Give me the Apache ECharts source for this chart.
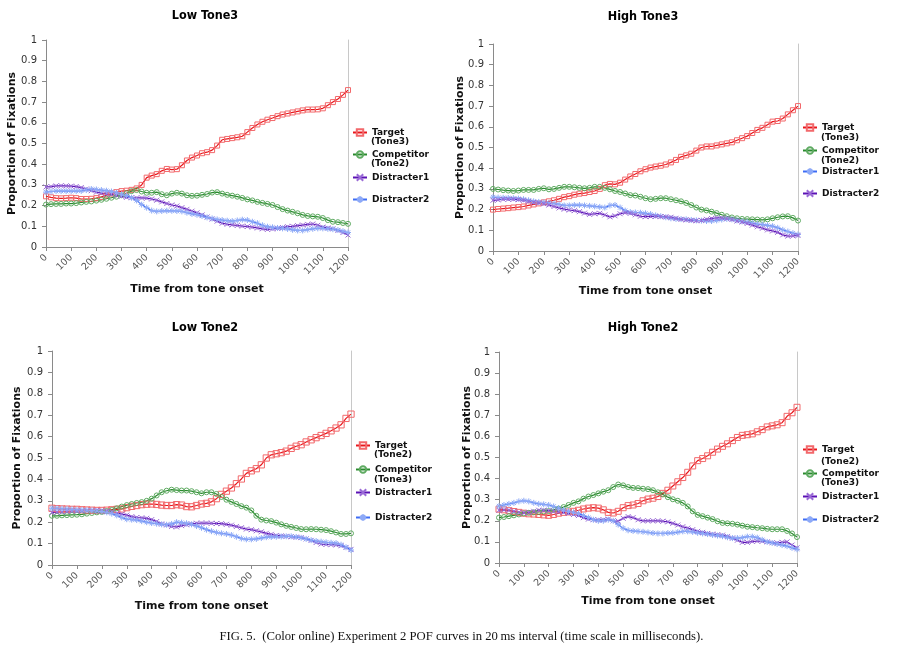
<!DOCTYPE html>
<html><head><meta charset="utf-8">
<script src="https://cdn.jsdelivr.net/npm/echarts@6/dist/echarts.min.js"></script>
<style>
body{margin:0;background:#fff;width:899px;height:648px;position:relative;overflow:hidden}
.p{position:absolute;width:450px;height:320px}
#cap{position:absolute;left:24px;top:628px;width:875px;text-align:center;font-family:"Liberation Serif","DejaVu Serif",serif;font-size:12.7px;color:#111;line-height:16px}
</style></head><body>
<div id="p1" class="p" style="left:0;top:0"></div>
<div id="p2" class="p" style="left:450px;top:0"></div>
<div id="p3" class="p" style="left:0;top:315px"></div>
<div id="p4" class="p" style="left:450px;top:315px"></div>
<div id="cap">FIG. 5.&nbsp; (Color online) Experiment 2 POF curves in 20&#8201;ms interval (time scale in milliseconds).</div>
<script>
// ---------- data ----------
const times = [0,20,40,60,80,100,120,140,160,180,200,220,240,260,280,300,320,340,360,380,400,420,440,460,480,500,520,540,560,580,600,620,640,660,680,700,720,740,760,780,800,820,840,860,880,900,920,940,960,980,1000,1020,1040,1060,1080,1100,1120,1140,1160,1180,1200];
const yTicks = [0,0.1,0.2,0.3,0.4,0.5,0.6,0.7,0.8,0.9,1];
const xTicks = [0,100,200,300,400,500,600,700,800,900,1000,1100,1200];
const panelTitles = ['Low Tone3','High Tone3','Low Tone2','High Tone2'];

// Low Tone3
const lt3Target = [.245,.240,.236,.235,.236,.238,.236,.232,.232,.233,.236,.242,.250,.258,.265,.270,.272,.276,.283,.300,.335,.345,.352,.368,.377,.374,.376,.395,.418,.432,.442,.453,.458,.468,.490,.518,.522,.526,.530,.535,.555,.575,.592,.605,.615,.623,.632,.640,.645,.650,.655,.660,.664,.664,.665,.670,.685,.700,.715,.735,.758];
const lt3Competitor = [.205,.207,.208,.208,.210,.210,.212,.215,.218,.220,.224,.228,.233,.238,.243,.250,.260,.270,.275,.268,.262,.262,.265,.255,.250,.258,.262,.258,.250,.247,.248,.252,.256,.263,.265,.258,.252,.248,.243,.237,.230,.225,.218,.213,.208,.203,.193,.183,.176,.170,.163,.155,.150,.148,.146,.140,.130,.122,.120,.116,.112];
const lt3Distracter1 = [.290,.292,.295,.296,.295,.294,.292,.287,.280,.272,.265,.260,.257,.255,.250,.245,.240,.238,.237,.237,.236,.232,.226,.218,.210,.203,.198,.190,.182,.173,.165,.155,.145,.135,.125,.115,.110,.107,.104,.101,.099,.096,.092,.088,.085,.087,.090,.094,.098,.100,.103,.106,.109,.111,.105,.096,.092,.088,.080,.070,.058];
const lt3Distracter2 = [.265,.268,.270,.270,.270,.270,.270,.271,.275,.280,.278,.275,.272,.268,.262,.255,.248,.238,.225,.205,.190,.176,.172,.174,.175,.175,.174,.172,.166,.160,.156,.150,.143,.138,.133,.130,.127,.125,.128,.132,.130,.122,.115,.105,.098,.095,.092,.090,.087,.083,.080,.080,.084,.088,.090,.090,.088,.086,.082,.076,.070];

// High Tone3
const ht3Target = [.200,.203,.205,.207,.210,.212,.215,.220,.225,.230,.235,.240,.245,.252,.260,.265,.272,.277,.280,.285,.290,.300,.318,.324,.322,.330,.345,.360,.372,.385,.395,.403,.408,.412,.418,.428,.440,.455,.462,.470,.485,.500,.505,.505,.510,.515,.520,.525,.535,.545,.555,.570,.585,.595,.610,.625,.628,.640,.660,.680,.700];
const ht3Competitor = [.300,.297,.294,.292,.290,.292,.295,.295,.295,.300,.303,.298,.300,.305,.310,.310,.308,.305,.303,.305,.310,.310,.305,.298,.290,.285,.278,.270,.268,.262,.255,.250,.252,.255,.255,.250,.245,.240,.232,.222,.210,.200,.196,.190,.183,.175,.168,.162,.158,.155,.154,.153,.152,.150,.153,.158,.163,.167,.168,.160,.147];
const ht3Distracter1 = [.260,.258,.257,.256,.255,.253,.250,.245,.240,.237,.235,.232,.230,.225,.220,.220,.222,.222,.220,.218,.216,.213,.210,.220,.222,.210,.195,.188,.186,.185,.182,.178,.172,.168,.163,.158,.155,.154,.153,.150,.148,.147,.145,.145,.148,.152,.155,.153,.148,.143,.140,.135,.130,.127,.124,.120,.112,.102,.094,.086,.080];
const ht3Distracter2 = [.245,.247,.250,.250,.250,.248,.245,.240,.235,.232,.228,.222,.215,.208,.202,.198,.195,.190,.183,.177,.180,.182,.174,.165,.170,.180,.185,.182,.175,.168,.166,.167,.167,.166,.165,.163,.158,.153,.150,.148,.146,.148,.153,.157,.160,.160,.157,.152,.145,.140,.133,.125,.117,.110,.102,.097,.090,.078,.072,.073,.075];

// Low Tone2
const lt2Target = [.265,.263,.262,.261,.260,.260,.258,.257,.256,.255,.255,.256,.258,.260,.262,.268,.274,.278,.282,.284,.285,.283,.280,.278,.278,.282,.280,.273,.272,.278,.285,.288,.295,.310,.330,.345,.360,.380,.402,.428,.440,.450,.468,.500,.515,.520,.525,.532,.545,.555,.562,.575,.585,.595,.605,.615,.627,.640,.655,.685,.705];
const lt2Competitor = [.230,.230,.232,.233,.234,.235,.237,.240,.243,.246,.248,.252,.257,.265,.273,.280,.285,.290,.294,.300,.310,.325,.340,.347,.352,.350,.348,.348,.345,.340,.335,.340,.340,.332,.318,.305,.295,.285,.275,.268,.255,.230,.212,.208,.205,.198,.190,.183,.178,.173,.168,.167,.168,.167,.165,.163,.158,.152,.145,.145,.148];
const lt2Distracter1 = [.245,.247,.248,.250,.252,.252,.253,.255,.255,.255,.254,.252,.248,.242,.238,.233,.226,.222,.220,.218,.212,.203,.192,.187,.180,.178,.184,.188,.192,.195,.196,.196,.195,.194,.193,.190,.186,.180,.174,.168,.165,.160,.155,.148,.143,.138,.136,.134,.132,.130,.128,.122,.115,.105,.098,.096,.095,.094,.090,.082,.073];
const lt2Distracter2 = [.265,.265,.263,.262,.260,.258,.257,.256,.255,.252,.250,.246,.240,.232,.222,.214,.212,.210,.205,.200,.196,.193,.190,.188,.192,.200,.198,.195,.190,.182,.174,.165,.158,.152,.148,.145,.140,.132,.124,.120,.120,.122,.126,.130,.131,.132,.133,.134,.134,.131,.127,.122,.116,.112,.109,.106,.104,.102,.095,.083,.070];

// High Tone2
const ht2Target = [.255,.252,.248,.244,.240,.236,.233,.232,.230,.228,.226,.230,.236,.240,.242,.245,.250,.256,.260,.262,.260,.252,.240,.237,.245,.262,.272,.275,.282,.295,.303,.307,.315,.330,.345,.365,.385,.405,.430,.460,.485,.495,.508,.525,.540,.553,.565,.580,.595,.605,.608,.612,.622,.632,.645,.650,.655,.665,.695,.712,.738];
const ht2Competitor = [.215,.218,.222,.226,.230,.235,.238,.240,.242,.244,.246,.252,.258,.265,.275,.285,.292,.305,.315,.322,.330,.338,.345,.360,.372,.368,.360,.356,.355,.352,.350,.345,.335,.325,.312,.302,.295,.285,.268,.245,.228,.222,.215,.208,.198,.190,.188,.186,.182,.177,.172,.170,.167,.165,.162,.160,.160,.160,.152,.140,.123];
const ht2Distracter1 = [.250,.252,.250,.245,.240,.238,.240,.245,.250,.250,.248,.245,.242,.240,.235,.230,.225,.215,.208,.205,.204,.205,.208,.200,.198,.212,.220,.215,.205,.200,.200,.200,.200,.198,.195,.188,.180,.172,.165,.158,.150,.145,.140,.137,.134,.132,.126,.118,.108,.098,.098,.102,.104,.103,.100,.096,.095,.098,.100,.085,.072];
const ht2Distracter2 = [.270,.275,.280,.285,.292,.295,.292,.285,.280,.278,.275,.268,.260,.252,.245,.240,.235,.225,.215,.205,.200,.200,.205,.200,.182,.165,.155,.152,.150,.148,.145,.142,.140,.140,.142,.143,.146,.150,.150,.147,.143,.140,.137,.133,.130,.127,.122,.118,.118,.120,.125,.125,.120,.110,.100,.095,.090,.085,.080,.072,.065];

// ---------- styles ----------
const FONT = '"DejaVu Sans", Verdana, sans-serif';
const COND = '"DejaVu Sans Condensed", "DejaVu Sans", sans-serif';
const ST = {
  red:    {line:'#e8161b', mark:'#f2686b', symbol:'rect', size:5},
  green:  {line:'#2a8a2e', mark:'#5fab62', symbol:'circle', size:5},
  purple: {line:'#5b12b5', mark:'#9a6ad6', symbol:'path://M0,0L10,10M0,10L10,0M5,2L5,8', size:5},
  blue:   {line:'#3d6cf5', mark:'#8eaaf7', symbol:'path://M5,0L5,10M0,5L10,5M1.5,1.5L8.5,8.5M1.5,8.5L8.5,1.5', size:6}
};

const panels = [
  {id:'p1', title:panelTitles[0], tx:205, ty:16, markScale:1,
   grid:{left:46, top:40, width:302, height:207}, yGap:28, xGap:37,
   series:[['Target','(Tone3)',lt3Target,'red'],['Competitor','(Tone2)',lt3Competitor,'green'],['Distracter1',null,lt3Distracter1,'purple'],['Distracter2',null,lt3Distracter2,'blue']],
   lx:352, ly:[132,154,177,199], l2:[142,164]},
  {id:'p2', title:panelTitles[1], tx:193, ty:17, markScale:1,
   grid:{left:43, top:44, width:305, height:207}, yGap:27, xGap:35,
   series:[['Target','(Tone3)',ht3Target,'red'],['Competitor','(Tone2)',ht3Competitor,'green'],['Distracter1',null,ht3Distracter1,'blue'],['Distracter2',null,ht3Distracter2,'purple']],
   lx:352, ly:[127,150,171,193], l2:[138,161]},
  {id:'p3', title:panelTitles[2], tx:205, ty:13, markScale:1.25,
   grid:{left:52, top:36, width:299, height:214}, yGap:29, xGap:36,
   series:[['Target','(Tone2)',lt2Target,'red'],['Competitor','(Tone3)',lt2Competitor,'green'],['Distracter1',null,lt2Distracter1,'purple'],['Distracter2',null,lt2Distracter2,'blue']],
   lx:355, ly:[130,154,177,202], l2:[140,165]},
  {id:'p4', title:panelTitles[3], tx:193, ty:13, markScale:1.2,
   grid:{left:49, top:37, width:298, height:211}, yGap:26, xGap:33,
   series:[['Target','(Tone2)',ht2Target,'red'],['Competitor','(Tone3)',ht2Competitor,'green'],['Distracter1',null,ht2Distracter1,'purple'],['Distracter2',null,ht2Distracter2,'blue']],
   lx:352, ly:[134,158,181,204], l2:[147,168]}
];

const legendText = {fontFamily:FONT, fontWeight:'bold', fontSize:9, color:'#111'};

panels.forEach(p => {
  const chart = echarts.init(document.getElementById(p.id), null, {renderer:'canvas'});
  const legends = [];
  const graphics = [{type:'text', x:p.tx, y:p.ty, style:{text:p.title, fontFamily:COND, fontWeight:'bold', fontSize:12.5, fill:'#000', align:'center', verticalAlign:'middle'}}];
  let k = 0;
  p.series.forEach((s, i) => {
    legends.push({left:p.lx, top:p.ly[i]-4, orient:'vertical', padding:0, itemWidth:14, itemHeight:8, itemGap:0,
      selectedMode:false, data:[s[0]], textStyle:legendText});
    if (s[1]) {
      graphics.push({type:'text', x:p.lx+19, y:p.l2[k], style:{text:s[1], fill:'#111', verticalAlign:'middle', font:'bold 9px ' + FONT}});
      k++;
    }
  });
  const series = p.series.map(s => {
    const st = ST[s[3]];
    const size = s[3] === 'red' ? st.size * p.markScale : st.size;
    return {
      name:s[0], type:'line', data:times.map((t,i)=>[t, s[2][i]]),
      symbol:st.symbol, symbolSize:size, showAllSymbol:true, showSymbol:true,
      lineStyle:{color:st.line, width:1.2},
      itemStyle:{color:'rgba(255,255,255,0)', borderColor:st.mark, borderWidth:1},
      emphasis:{disabled:true}, animation:false
    };
  });
  chart.setOption({
    animation:false,
    backgroundColor:'#fff',
    grid:Object.assign({containLabel:false, outerBoundsMode:'none'}, p.grid),
    legend:legends,
    graphic:graphics,
    xAxis:{type:'value', min:xTicks[0], max:xTicks[xTicks.length-1], interval:100,
      name:'Time from tone onset', nameLocation:'middle', nameGap:p.xGap, nameMoveOverlap:false,
      nameTextStyle:{fontFamily:FONT, fontWeight:'bold', fontSize:11, color:'#111'},
      splitLine:{show:false},
      axisLine:{show:true, lineStyle:{color:'#8a8a8a', width:1}},
      axisTick:{show:true, length:4, lineStyle:{color:'#8a8a8a'}},
      axisLabel:{rotate:45, margin:9, fontFamily:FONT, fontSize:9.5, color:'#555', showMinLabel:true, showMaxLabel:true, formatter:v=>String(v)}},
    yAxis:[{type:'value', min:yTicks[0], max:yTicks[yTicks.length-1], interval:0.1,
      name:'Proportion of Fixations', nameLocation:'middle', nameGap:p.yGap, nameMoveOverlap:false,
      nameTextStyle:{fontFamily:FONT, fontWeight:'bold', fontSize:11, color:'#111'},
      splitLine:{show:false},
      axisLine:{show:true, lineStyle:{color:'#8a8a8a', width:1}},
      axisTick:{show:true, length:4, lineStyle:{color:'#8a8a8a'}},
      axisLabel:{margin:9, fontFamily:FONT, fontSize:10, color:'#333', formatter:v=>String(Math.round(v*10)/10)}},
      {type:'value', position:'right', min:0, max:1, interval:0.1,
      axisLine:{show:true, lineStyle:{color:'#c8c8c8', width:1}}, axisTick:{show:false}, axisLabel:{show:false}, splitLine:{show:false}}],
    series:series
  });
});
</script>
</body></html>
